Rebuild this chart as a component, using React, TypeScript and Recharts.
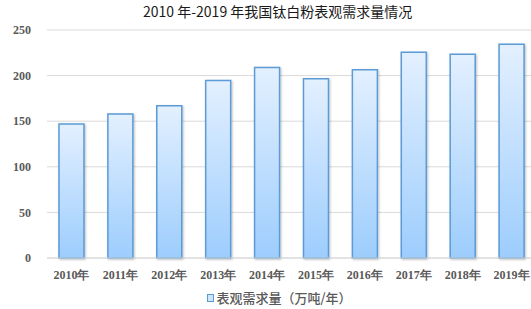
import React from "react";
import {
  BarChart,
  Bar,
  XAxis,
  YAxis,
  CartesianGrid,
  Legend,
} from "recharts";

const years = [
  "2010年", "2011年", "2012年", "2013年", "2014年",
  "2015年", "2016年", "2017年", "2018年", "2019年",
];
const demand = [147, 158, 167, 194.5, 209, 196.5, 206.5, 225.5, 223.5, 234.5];
const yTicks = [0, 50, 100, 150, 200, 250];

const seriesName = "表观需求量（万吨/年）";
const title = "2010 年-2019 年我国钛白粉表观需求量情况";

const data = years.map((year, i) => ({ year, demand: demand[i] }));

const axisTick = {
  fill: "#595959",
  fontSize: 12,
  fontWeight: 700,
  fontFamily: "'Liberation Serif', 'Times New Roman', serif",
};

function LegendContent() {
  return (
    <div
      style={{
        display: "flex",
        alignItems: "center",
        justifyContent: "center",
        fontFamily: "'Noto Sans CJK SC', sans-serif",
        fontSize: 13,
        fontWeight: 500,
        color: "#595959",
      }}
    >
      <span
        style={{
          display: "inline-block",
          width: 5,
          height: 6,
          background: "#cfe5fd",
          border: "1px solid #5b9bd5",
          marginRight: 2,
        }}
      />
      {seriesName}
    </div>
  );
}

export default function App() {
  return (
    <div
      style={{
        position: "absolute",
        left: 0,
        top: 0,
        width: 531,
        height: 309,
        overflow: "hidden",
        background: "#fff",
      }}
    >
      <div
        style={{
          position: "absolute",
          top: 2,
          left: 143,
          width: 262,
          textAlign: "center",
          fontFamily: "'Noto Sans CJK SC', sans-serif",
          fontSize: 14,
          color: "#1a1a1a",
          whiteSpace: "nowrap",
          lineHeight: "18px",
        }}
      >
        {title}
      </div>
      <BarChart
        width={545}
        height={309}
        data={data}
        margin={{ top: 30, right: 9, left: 0, bottom: 21 }}
        barCategoryGap="24.5%"
      >
        <defs>
          <linearGradient id="barFill" x1="0" y1="0" x2="0" y2="1">
            <stop offset="0%" stopColor="#e3f0ff" />
            <stop offset="100%" stopColor="#9dcdfd" />
          </linearGradient>
          <filter id="barShadow" x="-20%" y="-5%" width="140%" height="110%">
            <feDropShadow dx="1" dy="1" stdDeviation="0.8" floodColor="#000" floodOpacity="0.25" />
          </filter>
        </defs>
        <CartesianGrid vertical={false} stroke="#d9d9d9" />
        <XAxis
          dataKey="year"
          height={30}
          tickLine={false}
          axisLine={{ stroke: "#d9d9d9" }}
          tick={axisTick}
          interval={0}
          tickMargin={6}
        />
        <YAxis
          width={47}
          domain={[0, 250]}
          ticks={yTicks}
          tickLine={false}
          axisLine={false}
          tick={axisTick}
          tickMargin={10}
        />
        <Legend
          verticalAlign="middle"
          align="center"
          content={<LegendContent />}
          wrapperStyle={{ top: 288, left: 14, width: 531 }}
        />
        <Bar
          dataKey="demand"
          name={seriesName}
          fill="url(#barFill)"
          stroke="#5b9bd5"
          strokeWidth={1.5}
          filter="url(#barShadow)"
          isAnimationActive={false}
        />
      </BarChart>
    </div>
  );
}
